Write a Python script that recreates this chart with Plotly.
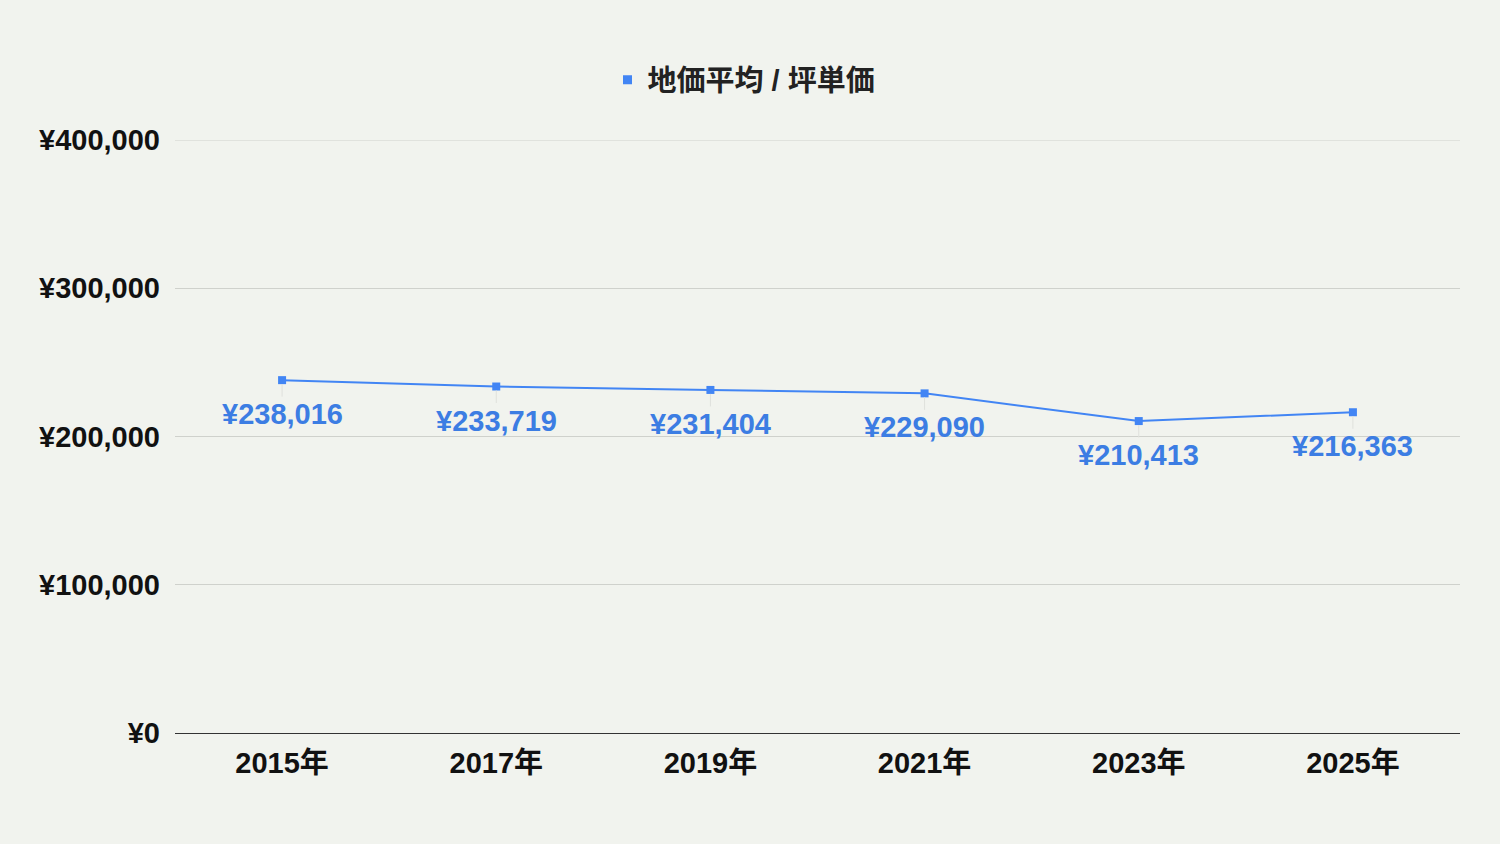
import plotly.graph_objects as go

years = ["2015年", "2017年", "2019年", "2021年", "2023年", "2025年"]
prices = [238016, 233719, 231404, 229090, 210413, 216363]
series_name = "地価平均 / 坪単価"
y_ticks = [0, 100000, 200000, 300000, 400000]

blue = "#4285f4"
label_blue = "#3c7de3"
bg = "#f1f3ee"
font_family = "'Liberation Sans', Arial, 'Noto Sans CJK JP', sans-serif"
fs = 29

fig = go.Figure()
fig.add_trace(go.Scatter(
    x=years, y=prices, mode="lines+markers",
    line=dict(color=blue, width=2),
    marker=dict(symbol="square", size=8, color=blue),
    showlegend=False, hoverinfo="x+y",
))
fig.add_trace(go.Scatter(
    x=[None], y=[None], mode="markers", name=series_name,
    marker=dict(symbol="square", size=9, color=blue),
))

for x, v in zip(years, prices):
    fig.add_annotation(
        x=x, y=v, text=f"¥{v:,}", showarrow=True, ax=0, ay=34,
        arrowhead=0, arrowwidth=1, arrowcolor="#dfe1dc", standoff=4,
        font=dict(family=font_family, size=fs, color=label_blue, weight="bold"),
    )

fig.add_shape(type="line", xref="paper", x0=0, x1=1, yref="y",
              y0=y_ticks[-1], y1=y_ticks[-1], line=dict(color="#cfd1cc", width=1),
              layer="below")

fig.update_layout(
    width=1500, height=844,
    paper_bgcolor=bg, plot_bgcolor=bg,
    margin=dict(l=175, r=40, t=140, b=111),
    font=dict(family=font_family, size=fs, color="#111111", weight="bold"),
    legend=dict(orientation="h", xref="container", x=0.5 - 6 / 1500, xanchor="center",
                yref="container", y=1 - 80 / 844, yanchor="middle",
                font=dict(family=font_family, size=fs, color="#222222", weight="bold"),
                bgcolor="rgba(0,0,0,0)"),
    showlegend=True,
)
fig.update_xaxes(
    type="category", range=[-0.5, 5.5], showgrid=False,
    showline=True, linecolor="#333333", linewidth=1.2,
    ticks="", ticklabelstandoff=4,
    tickfont=dict(size=fs, color="#111111", weight="bold"),
)
fig.update_yaxes(
    range=[0, 400000], tickvals=y_ticks,
    ticktext=[f"¥{t:,}" for t in y_ticks],
    showgrid=True, gridcolor="#cfd1cc", gridwidth=1,
    zeroline=False, ticks="", ticklabelstandoff=14,
    tickfont=dict(size=fs, color="#111111", weight="bold"),
)

fig.write_html("out.html")
